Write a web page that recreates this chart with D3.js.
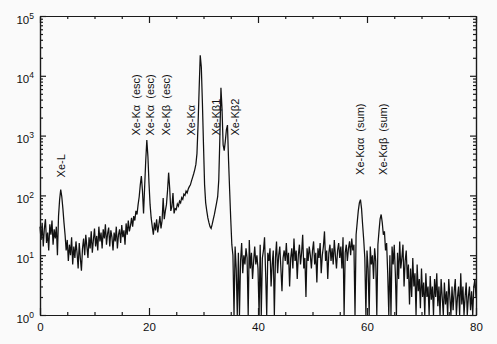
<!DOCTYPE html>
<html>
<head>
<meta charset="utf-8">
<script src="https://cdn.jsdelivr.net/npm/d3@7"></script>
<style>
  body { margin: 0; background: #fafafa; }
  svg { display: block; font-family: "Liberation Sans", Arial, sans-serif; }
  .axis path, .axis line { stroke: #1a1a1a; stroke-width: 1.2px; }
  .axis text { fill: #111; font-size: 11.5px; font-family: "Liberation Sans", Arial, sans-serif; }
  .anno { fill: #111; font-size: 11px; white-space: pre; }
</style>
</head>
<body>
<script>
// spectrum: counts per 0.2 keV channel, 0 .. 80 keV
const energyStart = 0;
const energyStep = 0.2;
const counts = [
  30, 18, 35, 14, 28, 40, 16, 24, 12, 33,
  22, 38, 15, 27, 19, 30, 10, 45, 85, 125,
  95, 60, 35, 22, 12, 18, 8, 15, 10, 20,
  7, 14, 9, 17, 11, 6, 16, 9, 5.5, 13,
  19, 10, 22, 14, 9, 20, 13, 25, 11, 18,
  28, 14, 21, 12, 30, 17, 24, 13, 27, 19,
  33, 15, 23, 29, 14, 26, 20, 12, 24, 17,
  30, 13, 22, 27, 16, 32, 20, 26, 15, 34,
  22, 38, 25, 31, 42, 30, 45, 38, 55, 48,
  70, 95, 150, 210, 120, 50, 140, 380, 840, 450,
  160, 70, 42, 30, 22, 35, 26, 40, 24, 32,
  45, 28, 38, 90, 40, 55, 70, 120, 240, 130,
  55, 65, 110, 50, 60, 58, 72, 66, 80, 75,
  92, 86, 105, 100, 118, 110, 128, 140, 150, 175,
  200, 230, 270, 330, 500, 1500, 6000, 22000, 14000, 3500,
  700, 150, 75, 55, 42, 35, 30, 28, 33, 40,
  48, 60, 75, 95, 180, 900, 6300, 2800, 700, 560,
  800, 1250, 1500, 380, 120, 40, 15, 10, 0, 14,
  6, 0, 11, 0, 8, 16, 5, 10, 7, 13,
  9, 0, 18, 6, 11, 4, 8, 14, 7, 10,
  6, 0, 15, 0, 9, 12, 20, 5, 0, 11,
  8, 13, 3, 7, 12, 0, 9, 17, 5, 10,
  14, 6, 2.5, 9, 12, 8, 16, 7, 11, 3,
  9, 13, 6, 19, 8, 12, 4, 10, 15, 7,
  11, 22, 6, 9, 2, 13, 8, 14, 10, 6,
  12, 17, 7, 11, 3.5, 13, 9, 16, 5, 10,
  14, 25, 8, 12, 4, 11, 15, 8, 13, 7,
  18, 10, 6, 12, 16, 9, 14, 6, 20, 0,
  11, 15, 8, 13, 17, 10, 19, 12, 15, 0,
  22, 35, 55, 75, 85, 60, 32, 18, 9, 0,
  12, 6, 0, 14, 7, 10, 4, 13, 8, 0,
  15, 25, 40, 48, 35, 22, 25, 12, 16, 5,
  0, 10, 0, 14, 7, 15, 5, 0, 11, 4,
  17, 6, 9, 15, 3, 8, 12, 4, 7, 1.5,
  6, 2, 9, 3, 5, 1, 7, 2.5, 4, 1.3,
  6, 2, 3.5, 1, 5, 2, 3, 1, 4.5, 1.8,
  3, 0, 4, 2, 5, 1.4, 3, 1, 4, 2,
  1, 3.5, 1.5, 2.5, 1, 4, 2, 1, 3, 1.2,
  2.5, 4, 1, 2, 3, 1, 5, 1.5, 3, 1,
  2, 3.5, 1, 2, 3, 1.2, 2.5, 1, 3, 4,
  2
];

// line identifications
const annoText = ["Xe-L", "Xe-K\u03b1  (esc)", "Xe-K\u03b1  (esc)", "Xe-K\u03b2  (esc)",
  "Xe-K\u03b1", "Xe-K\u03b21", "Xe-K\u03b22", "Xe-K\u03b1\u03b1  (sum)", "Xe-K\u03b1\u03b2  (sum)"];
const annoEnergy = [3.85, 17.6, 20.2, 23.1, 27.7, 32.3, 35.8, 58.7, 62.9];
const annoCount = [200, 1000, 1000, 1000, 1000, 1000, 1000, 220, 220];

const xTicks = [0, 20, 40, 60, 80];
const yTicks = [1, 10, 100, 1000, 10000, 100000];
const yExponents = ["0", "1", "2", "3", "4", "5"];

const width = 497, height = 344;

const svg = d3.select("body").append("svg")
    .attr("width", width)
    .attr("height", height);

svg.append("rect")
    .attr("width", width)
    .attr("height", height)
    .attr("fill", "#fafafa");

let x = d3.scaleLinear().domain([0, 80]).range([40, 476]);
let y = d3.scaleLog().domain([1, 1e5]).range([315, 16]).clamp(true);

let xMinor = d3.range(0, 81, 5).filter(function (d) { return xTicks.indexOf(d) < 0; });
let yMinor = [];
yTicks.slice(0, -1).forEach(function (p) {
    for (let m = 2; m < 10; m++) yMinor.push(m * p);
});

// spectrum
let line = d3.line()
    .x(function (d, i) { return x(energyStart + i * energyStep); })
    .y(function (d) { return y(d); });

svg.append("path")
    .datum(counts)
    .attr("d", line)
    .style("fill", "none")
    .style("stroke", "#111")
    .style("stroke-width", "1.25px")
    .style("stroke-linejoin", "miter");

// axes, ticks pointing inwards
svg.append("g").attr("class", "axis")
    .attr("transform", "translate(0,315)")
    .call(d3.axisBottom(x).tickValues(xTicks).tickSize(-7).tickSizeOuter(0).tickPadding(8));
svg.append("g").attr("class", "axis")
    .attr("transform", "translate(0,315)")
    .call(d3.axisBottom(x).tickValues(xMinor).tickSize(-3).tickSizeOuter(0).tickFormat(""));
svg.append("g").attr("class", "axis")
    .attr("transform", "translate(0,16)")
    .call(d3.axisTop(x).tickValues(xTicks).tickSize(-7).tickSizeOuter(0).tickFormat(""));
svg.append("g").attr("class", "axis")
    .attr("transform", "translate(0,16)")
    .call(d3.axisTop(x).tickValues(xMinor).tickSize(-3).tickSizeOuter(0).tickFormat(""));

let left = svg.append("g").attr("class", "axis")
    .attr("transform", "translate(40,0)")
    .call(d3.axisLeft(y).tickValues(yTicks).tickSize(-6).tickSizeOuter(0).tickPadding(6)
        .tickFormat(function () { return "10"; }));
left.selectAll(".tick text")
    .attr("dy", "0.62em")
    .append("tspan")
    .attr("dy", "-0.6em")
    .style("font-size", "8.5px")
    .text(function (d, i) { return yExponents[i]; });
svg.append("g").attr("class", "axis")
    .attr("transform", "translate(40,0)")
    .call(d3.axisLeft(y).tickValues(yMinor).tickSize(-3).tickSizeOuter(0).tickFormat(""));

svg.append("g").attr("class", "axis")
    .attr("transform", "translate(476,0)")
    .call(d3.axisRight(y).tickValues(yTicks).tickSize(-6).tickSizeOuter(0).tickFormat(""));
svg.append("g").attr("class", "axis")
    .attr("transform", "translate(476,0)")
    .call(d3.axisRight(y).tickValues(yMinor).tickSize(-3).tickSizeOuter(0).tickFormat(""));

// labels
svg.append("g")
    .selectAll("text")
    .data(annoText)
    .enter().append("text")
    .attr("class", "anno")
    .attr("transform", function (d, i) {
        return "translate(" + x(annoEnergy[i]) + "," + y(annoCount[i]) + ") rotate(-90)";
    })
    .attr("dy", "0.36em")
    .text(function (d) { return d; });
</script>
</body>
</html>
